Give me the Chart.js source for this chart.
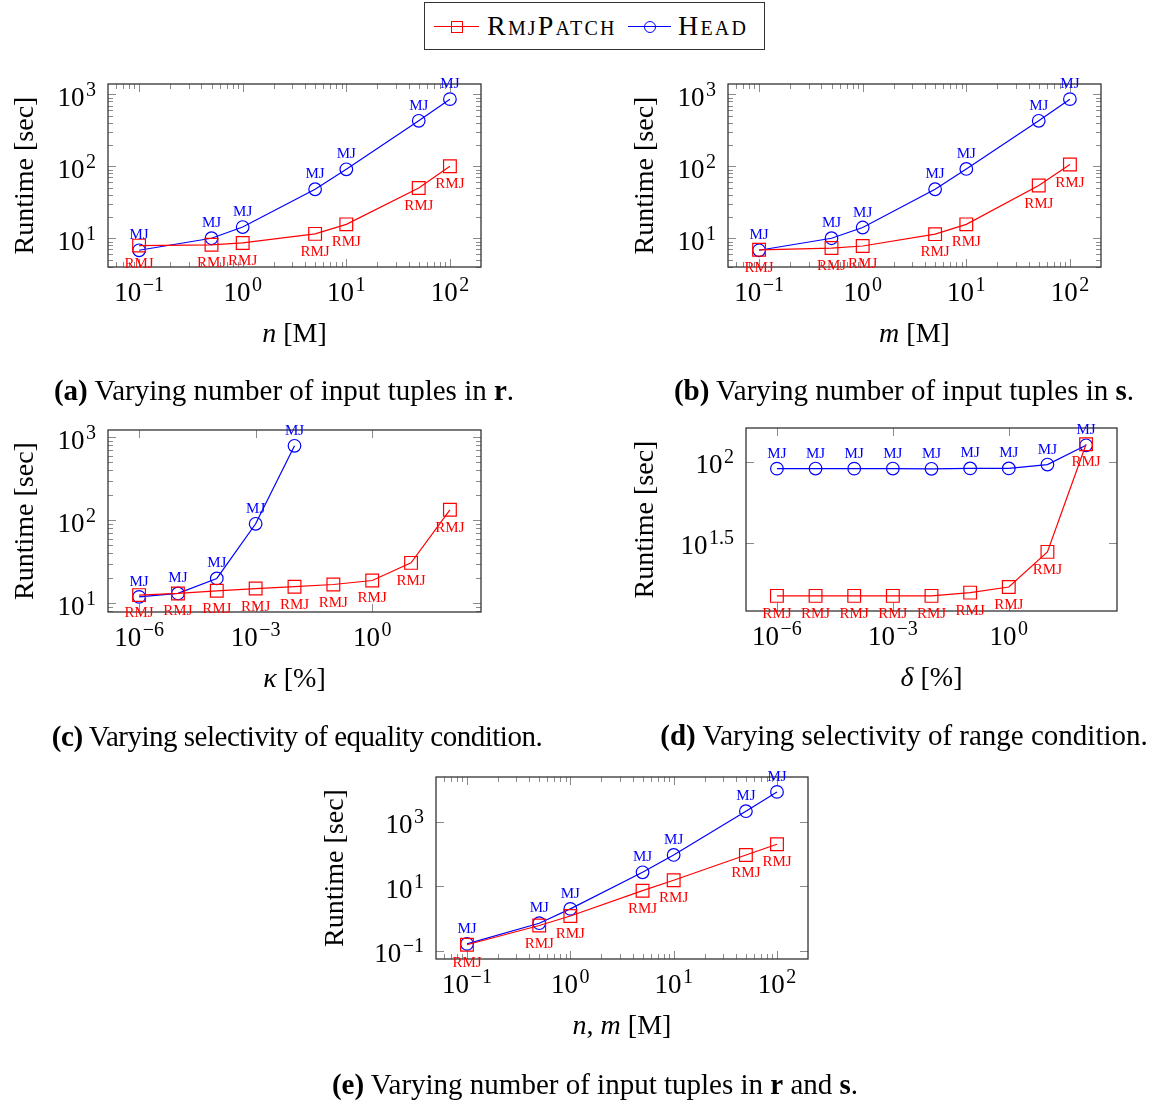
<!DOCTYPE html>
<html>
<head>
<meta charset="utf-8">
<script src="https://cdn.jsdelivr.net/npm/chart.js@4.4.1/dist/chart.umd.min.js"></script>
<style>
  body { margin: 0; background: #fff; width: 1156px; height: 1102px; position: relative; overflow: hidden; font-family: "Liberation Serif", serif; }
  canvas { position: absolute; left: 0; top: 0; }
  .cap { position: absolute; font-size: 29px; line-height: 29px; white-space: nowrap; transform: translateX(-50%); color: #000; }
  #legend { position: absolute; left: 424px; top: 2px; width: 339px; height: 46px; border: 1.3px solid #333; }
  #legend .ln { position: absolute; top: 23px; height: 1.3px; }
  #legend .txt { position: absolute; top: 8px; font-size: 28px; line-height: 30px; font-variant: small-caps; letter-spacing: 2.2px; }
</style>
</head>
<body>
<div id="legend">
  <div class="ln" style="left:9px;width:45px;background:#f00"></div>
  <div style="position:absolute;left:26px;top:18px;width:10px;height:10px;border:1.2px solid #f00"></div>
  <span class="txt" style="left:62px">RmjPatch</span>
  <div class="ln" style="left:203px;width:43px;background:#00f"></div>
  <div style="position:absolute;left:219px;top:18px;width:10px;height:10px;border:1.2px solid #00f;border-radius:50%"></div>
  <span class="txt" style="left:253px">Head</span>
</div>
<canvas id="ca" width="1156" height="1102"></canvas>
<canvas id="cb" width="1156" height="1102"></canvas>
<canvas id="cc" width="1156" height="1102"></canvas>
<canvas id="cd" width="1156" height="1102"></canvas>
<canvas id="ce" width="1156" height="1102"></canvas>
<div class="cap" style="left:284px;top:376px"><b>(a)</b> Varying number of input tuples in <b>r</b>.</div>
<div class="cap" style="left:904px;top:376px"><b>(b)</b> Varying number of input tuples in <b>s</b>.</div>
<div class="cap" style="left:297px;top:722px;letter-spacing:-0.5px"><b>(c)</b> Varying selectivity of equality condition.</div>
<div class="cap" style="left:904px;top:721px"><b>(d)</b> Varying selectivity of range condition.</div>
<div class="cap" style="left:595px;top:1070px"><b>(e)</b> Varying number of input tuples in <b>r</b> and <b>s</b>.</div>
<script>
// x values
const sizesM = [0.1, 0.5, 1, 5, 10, 50, 100];
const selectivity = [1e-6, 1e-5, 1e-4, 1e-3, 1e-2, 1e-1, 1, 10, 100];

// runtimes [sec]
const headR = [6.8, 10, 14.3, 48, 91, 430, 860];
const rmjR = [7.9, 8.1, 8.6, 11.5, 15.6, 50, 100];
const headS = [6.8, 10, 14.1, 48, 92, 430, 860];
const rmjS = [6.9, 7.3, 7.8, 11.4, 15.6, 54, 106];
const headEq = [12.0, 13.2, 20, 91, 790];
const rmjEq = [12.6, 13.2, 14.2, 15.1, 15.9, 16.9, 18.9, 30.8, 134];
const headRange = [90.5, 90.6, 90.5, 90.6, 90.3, 90.8, 90.8, 95.9, 126];
const rmjRange = [14.9, 14.9, 14.9, 14.9, 14.9, 15.6, 16.9, 27.8, 128];
const headRS = [0.165, 0.72, 2.0, 27, 93, 2100, 8300];
const rmjRS = [0.155, 0.61, 1.2, 7.3, 15.3, 93, 200];

// tick exponents (labels are 10^e)
const sizeTicks = [-1, 0, 1, 2];
const selTicks = [-6, -3, 0];
const runTicksA = [1, 2, 3];
const runTicksD = [1.5, 2];
const runTicksE = [-1, 1, 3];

const headTag = 'MJ';
const rmjTag = 'RMJ';

const W = 1156, H = 1102;
const FONT = '"Liberation Serif", "Times New Roman", serif';

function pts(xs, ys) {
  return ys.map((y, i) => ({ x: xs[i], y: y }));
}

function expText(e) {
  return e < 0 ? '\u2212' + Math.abs(e) : String(e);
}

function drawPow(ctx, e, x, y, align) {
  ctx.font = '27px ' + FONT;
  const w1 = ctx.measureText('10').width;
  ctx.font = '20px ' + FONT;
  const s = expText(e);
  const w2 = ctx.measureText(s).width;
  const w = w1 + 1.5 + w2;
  const x0 = align === 'center' ? x - w / 2 : x - w;
  ctx.textAlign = 'left';
  ctx.textBaseline = 'alphabetic';
  ctx.font = '27px ' + FONT;
  ctx.fillText('10', x0, y);
  ctx.font = '20px ' + FONT;
  ctx.fillText(s, x0 + w1 + 1.5, y - 10);
}

function drawRich(ctx, parts, x, y) {
  let w = 0;
  parts.forEach(p => {
    ctx.font = (p.it ? 'italic ' : '') + '28px ' + FONT;
    p.w = ctx.measureText(p.t).width;
    w += p.w;
  });
  let cx = x - w / 2;
  ctx.textAlign = 'left';
  ctx.textBaseline = 'alphabetic';
  parts.forEach(p => {
    ctx.font = (p.it ? 'italic ' : '') + '28px ' + FONT;
    ctx.fillText(p.t, cx, y);
    cx += p.w;
  });
}

function minors(lo, hi) {
  const out = [];
  for (let k = Math.floor(Math.log10(lo)); k <= Math.ceil(Math.log10(hi)); k++) {
    for (let m = 2; m <= 9; m++) {
      const v = m * Math.pow(10, k);
      if (v > lo && v < hi) out.push(v);
    }
  }
  return out;
}

const texAxes = {
  id: 'texAxes',
  beforeDatasetsDraw(chart) {
    const o = chart.options.plugins.texAxes;
    const ctx = chart.ctx, a = chart.chartArea;
    const x = chart.scales.x, y = chart.scales.y;
    const seg = (x1, y1, x2, y2) => { ctx.beginPath(); ctx.moveTo(x1, y1); ctx.lineTo(x2, y2); ctx.stroke(); };
    ctx.save();
    ctx.strokeStyle = '#8a8a8a';
    ctx.lineWidth = 1;
    const xt = (v, len) => { const px = Math.round(x.getPixelForValue(v)) + 0.5; seg(px, a.bottom, px, a.bottom - len); seg(px, a.top, px, a.top + len); };
    const yt = (v, len) => { const py = Math.round(y.getPixelForValue(v)) + 0.5; seg(a.left, py, a.left + len, py); seg(a.right, py, a.right - len, py); };
    o.xTicks.forEach(e => xt(Math.pow(10, e), 8));
    if (o.xMinor) minors(x.min, x.max).forEach(v => xt(v, 5));
    o.yTicks.forEach(e => yt(Math.pow(10, e), 8));
    if (o.yMinor) minors(y.min, y.max).forEach(v => yt(v, 5));
    ctx.strokeStyle = '#333';
    ctx.lineWidth = 1.3;
    ctx.strokeRect(a.left, a.top, a.right - a.left, a.bottom - a.top);

    ctx.fillStyle = '#000';
    o.xTicks.forEach(e => drawPow(ctx, e, x.getPixelForValue(Math.pow(10, e)), a.bottom + 34, 'center'));
    o.yTicks.forEach(e => drawPow(ctx, e, a.left - 12, y.getPixelForValue(Math.pow(10, e)) + 11.5, 'right'));

    drawRich(ctx, o.xTitle, (a.left + a.right) / 2, a.bottom + 75);
    ctx.translate(a.left - o.yOff, (a.top + a.bottom) / 2);
    ctx.rotate(-Math.PI / 2);
    drawRich(ctx, [{ t: 'Runtime [sec]' }], 0, 0);
    ctx.restore();
  },
  afterDatasetsDraw(chart) {
    const ctx = chart.ctx;
    ctx.save();
    ctx.font = '15px ' + FONT;
    ctx.textAlign = 'center';
    ctx.textBaseline = 'alphabetic';
    chart.data.datasets.forEach((ds, i) => {
      ctx.fillStyle = ds.borderColor;
      chart.getDatasetMeta(i).data.forEach(p => {
        ctx.fillText(ds.tag, p.x, ds.tagAbove ? p.y - 11 : p.y + 22);
      });
    });
    ctx.restore();
  }
};

function makeChart(id, area, xr, yr, xs, rmj, xsHead, head, ax) {
  new Chart(document.getElementById(id), {
    type: 'line',
    data: {
      datasets: [
        {
          label: 'RmjPatch', data: pts(xs, rmj), tag: rmjTag, tagAbove: false,
          borderColor: '#ff0000', borderWidth: 1.2, pointStyle: 'rect', pointRadius: 9,
          pointBorderWidth: 1.2, pointBackgroundColor: 'rgba(0,0,0,0)', pointBorderColor: '#ff0000', clip: false
        },
        {
          label: 'Head', data: pts(xsHead, head), tag: headTag, tagAbove: true,
          borderColor: '#0000ff', borderWidth: 1.2, pointStyle: 'circle', pointRadius: 6.3,
          pointBorderWidth: 1.2, pointBackgroundColor: 'rgba(0,0,0,0)', pointBorderColor: '#0000ff', clip: false
        }
      ]
    },
    options: {
      responsive: false,
      animation: false,
      devicePixelRatio: 1,
      events: [],
      layout: { padding: { left: area.l, top: area.t, right: W - area.r, bottom: H - area.b } },
      elements: { line: { tension: 0 } },
      scales: {
        x: { type: 'logarithmic', min: Math.pow(10, xr[0]), max: Math.pow(10, xr[1]), display: false },
        y: { type: 'logarithmic', min: Math.pow(10, yr[0]), max: Math.pow(10, yr[1]), display: false }
      },
      plugins: { legend: { display: false }, tooltip: { enabled: false }, texAxes: ax }
    },
    plugins: [texAxes]
  });
}

makeChart('ca', { l: 108, t: 84, r: 481, b: 267 }, [-1.3, 2.3], [0.6, 3.145], sizesM, rmjR, sizesM, headR,
  { xTicks: sizeTicks, xMinor: true, yTicks: runTicksA, yMinor: true, yOff: 75, xTitle: [{ t: 'n', it: true }, { t: ' [M]' }] });
makeChart('cb', { l: 728, t: 84, r: 1101, b: 267 }, [-1.3, 2.3], [0.6, 3.145], sizesM, rmjS, sizesM, headS,
  { xTicks: sizeTicks, xMinor: true, yTicks: runTicksA, yMinor: true, yOff: 75, xTitle: [{ t: 'm', it: true }, { t: ' [M]' }] });
makeChart('cc', { l: 108, t: 430, r: 481, b: 612 }, [-6.8, 2.8], [0.897, 3.088], selectivity, rmjEq, selectivity.slice(0, headEq.length), headEq,
  { xTicks: selTicks, xMinor: false, yTicks: runTicksA, yMinor: true, yOff: 75, xTitle: [{ t: '\u03BA', it: true }, { t: ' [%]' }] });
makeChart('cd', { l: 746, t: 428, r: 1117, b: 611 }, [-6.8, 2.8], [1.08, 2.207], selectivity, rmjRange, selectivity, headRange,
  { xTicks: selTicks, xMinor: false, yTicks: runTicksD, yMinor: false, yOff: 93, xTitle: [{ t: '\u03B4', it: true }, { t: ' [%]' }] });
makeChart('ce', { l: 436, t: 777, r: 808, b: 959 }, [-1.3, 2.3], [-1.25, 4.38], sizesM, rmjRS, sizesM, headRS,
  { xTicks: sizeTicks, xMinor: true, yTicks: runTicksE, yMinor: false, yOff: 93, xTitle: [{ t: 'n', it: true }, { t: ', ' }, { t: 'm', it: true }, { t: ' [M]' }] });
</script>
</body>
</html>
